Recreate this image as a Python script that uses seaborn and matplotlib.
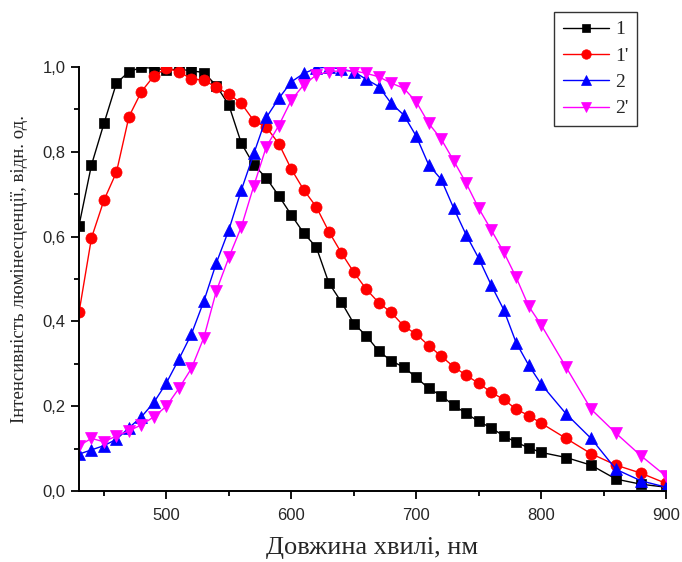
import matplotlib
matplotlib.use("Agg")
import matplotlib.pyplot as plt
import seaborn as sns
import numpy as np
import pandas as pd

wavelength = [430, 440, 450, 460, 470, 480, 490, 500, 510, 520, 530, 540, 550, 560,
              570, 580, 590, 600, 610, 620, 630, 640, 650, 660, 670, 680, 690, 700,
              710, 720, 730, 740, 750, 760, 770, 780, 790, 800, 820, 840, 860, 880, 900]

series_1 = [0.626, 0.769, 0.867, 0.962, 0.989, 0.999, 0.997, 0.993, 0.995, 0.991, 0.987,
            0.956, 0.910, 0.820, 0.769, 0.738, 0.696, 0.651, 0.608, 0.575, 0.491, 0.446,
            0.395, 0.366, 0.330, 0.307, 0.292, 0.268, 0.242, 0.225, 0.202, 0.183, 0.164,
            0.149, 0.130, 0.115, 0.102, 0.091, 0.079, 0.061, 0.028, 0.016, 0.009]

series_1p = [0.421, 0.597, 0.686, 0.752, 0.883, 0.942, 0.979, 0.997, 0.989, 0.972, 0.969,
             0.952, 0.936, 0.914, 0.873, 0.858, 0.819, 0.759, 0.710, 0.670, 0.612, 0.562,
             0.516, 0.476, 0.444, 0.421, 0.389, 0.370, 0.343, 0.318, 0.293, 0.273, 0.254,
             0.233, 0.216, 0.193, 0.178, 0.160, 0.124, 0.088, 0.061, 0.042, 0.018]

series_2 = [0.087, 0.097, 0.107, 0.122, 0.149, 0.175, 0.209, 0.255, 0.311, 0.370, 0.448,
            0.538, 0.616, 0.710, 0.796, 0.881, 0.926, 0.965, 0.985, 0.997, 1.000, 0.995,
            0.989, 0.971, 0.954, 0.914, 0.887, 0.837, 0.769, 0.735, 0.667, 0.604, 0.549,
            0.486, 0.428, 0.350, 0.297, 0.252, 0.182, 0.124, 0.051, 0.024, 0.009]

series_2p = [0.107, 0.124, 0.116, 0.130, 0.142, 0.156, 0.175, 0.200, 0.242, 0.289, 0.362,
             0.472, 0.551, 0.623, 0.720, 0.812, 0.862, 0.922, 0.958, 0.981, 0.989, 0.991,
             0.991, 0.985, 0.977, 0.962, 0.950, 0.918, 0.867, 0.830, 0.779, 0.726, 0.667,
             0.616, 0.564, 0.504, 0.436, 0.392, 0.292, 0.193, 0.136, 0.083, 0.035]

labels = ["1", "1'", "2", "2'"]
x_ticks = [500, 600, 700, 800, 900]
x_tick_labels = ["500", "600", "700", "800", "900"]
y_ticks = [0.0, 0.2, 0.4, 0.6, 0.8, 1.0]
y_tick_labels = ["0,0", "0,2", "0,4", "0,6", "0,8", "1,0"]
x_label = "Довжина хвилі, нм"
y_label = "Інтенсивність люмінесценції, відн. од."

sns.set_style("ticks")
plt.rcParams["font.family"] = ["Liberation Sans", "DejaVu Sans"]
SERIF = ["Liberation Serif", "DejaVu Serif"]

fig = plt.figure(figsize=(6.82, 5.62), dpi=100)
ax = fig.add_axes([79/682, 1-491/562, (666-79)/682, (491-67)/562])

styles = [
    (series_1, "#000000", "s", 7),
    (series_1p, "#ff0000", "o", 8),
    (series_2, "#0000ff", "^", 8.5),
    (series_2p, "#ff00ff", "v", 8.5),
]
for (vals, col, mk, ms), lab in zip(styles, labels):
    sns.lineplot(x=wavelength, y=vals, color=col, marker=mk, markersize=ms,
                 markeredgecolor=col, markeredgewidth=0.5, linewidth=1.0,
                 label=lab, ax=ax, legend=False, sort=False)

ax.set_xlim(430, 900)
ax.set_ylim(0.0, 1.0)
ax.set_xticks(x_ticks)
ax.set_xticklabels(x_tick_labels)
ax.set_yticks(y_ticks)
ax.set_yticklabels(y_tick_labels)
ax.set_xticks(np.arange(450, 900, 100), minor=True)
ax.set_yticks(np.arange(0.1, 1.0, 0.2), minor=True)

ax.tick_params(axis="both", which="major", direction="out", length=5.5, width=1.3,
               color="black", pad=4, labelsize=12)
ax.tick_params(axis="both", which="minor", direction="out", length=3.5, width=1.3, color="black")
ax.tick_params(axis="x", which="major", pad=7)

for s in ["top", "right"]:
    ax.spines[s].set_visible(False)
for s in ["left", "bottom"]:
    ax.spines[s].set_linewidth(1.4)
    ax.spines[s].set_color("black")

ax.set_xlabel(x_label, fontsize=19, family=SERIF)
ax.xaxis.set_label_coords(0.5, -0.108)
ax.set_ylabel(y_label, fontsize=13.5, family=SERIF)
ax.yaxis.set_label_coords(-0.087, 0.524)

handles, labs = ax.get_legend_handles_labels()
leg = fig.legend(handles, labs, loc="upper left", bbox_to_anchor=(554/682, 1-12/562),
                 frameon=True, fancybox=False, edgecolor="black",
                 prop={"family": SERIF, "size": 14},
                 handlelength=2.4, handletextpad=0.3, labelspacing=0.45,
                 borderpad=0.45, borderaxespad=0.0, markerscale=0.85)
leg.get_frame().set_linewidth(1.0)

fig.savefig("out.png", dpi=100)
